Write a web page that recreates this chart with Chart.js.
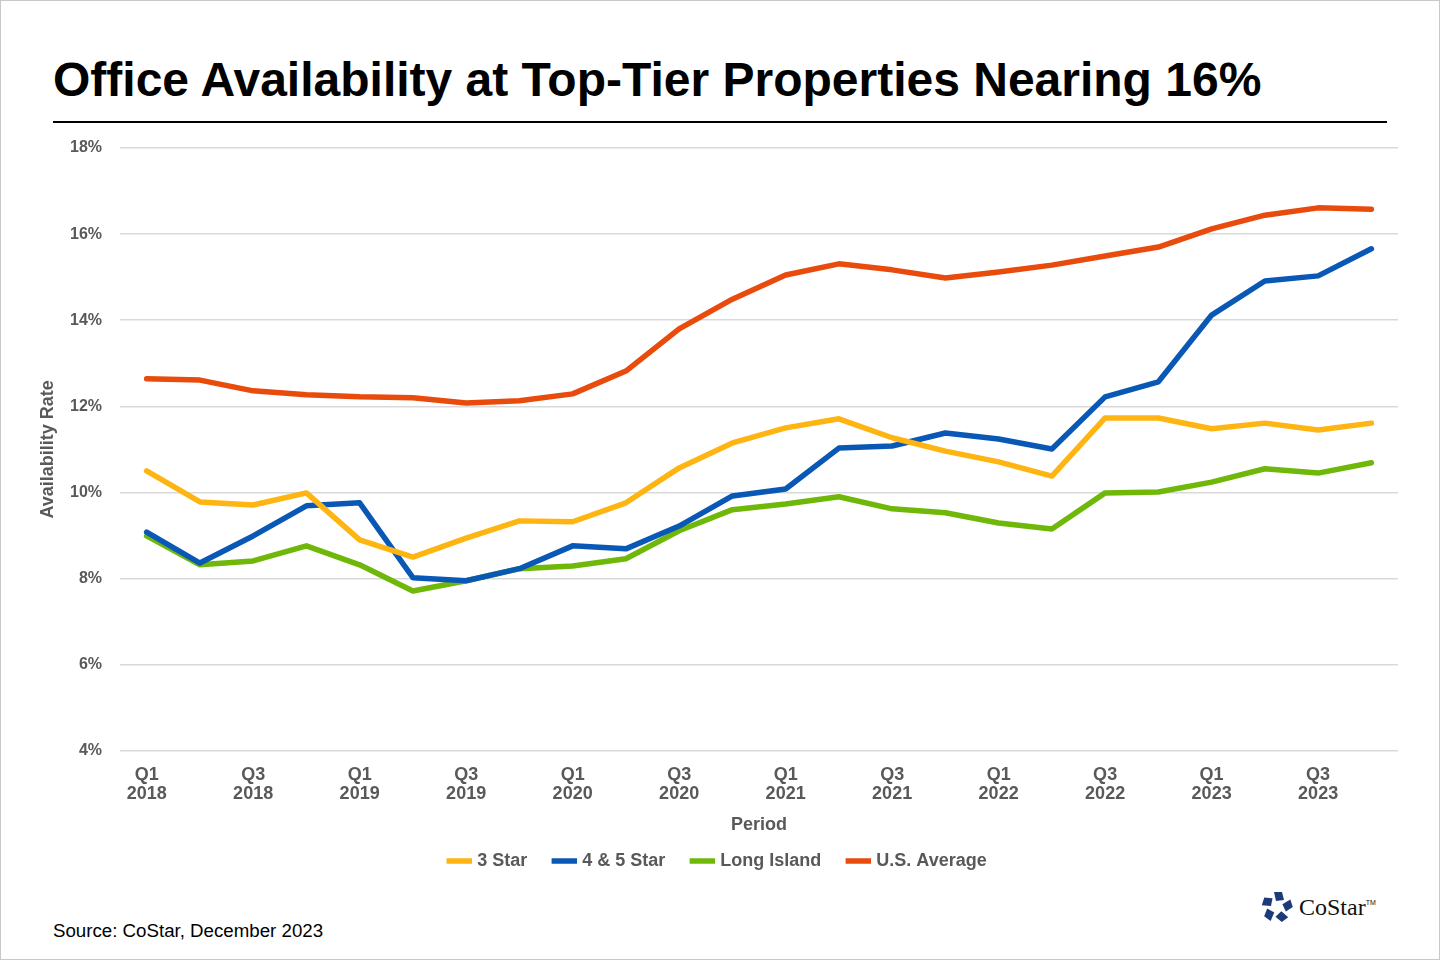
<!DOCTYPE html>
<html>
<head>
<meta charset="utf-8">
<script src="https://cdn.jsdelivr.net/npm/chart.js@4.4.0/dist/chart.umd.min.js"></script>
<style>
  html, body { margin: 0; padding: 0; background: #fff; }
  #page {
    position: relative; width: 1440px; height: 960px; box-sizing: border-box;
    border: 1px solid #c8c8c8; overflow: hidden; font-family: "Liberation Sans", Arial, sans-serif;
  }
  #title {
    position: absolute; left: 52px; top: 51px; margin: 0;
    font-size: 48px; font-weight: bold; color: #000; white-space: nowrap;
  }
  #rule { position: absolute; left: 52px; top: 120px; width: 1334px; height: 2px; background: #000; }
  #chart-wrap { position: absolute; left: 0; top: 128px; width: 1440px; height: 760px; }
  #source { position: absolute; left: 52px; top: 919px; font-size: 18.7px; color: #000; }
  #logo { position: absolute; left: 1260px; top: 890px; display: flex; align-items: center; }
  #logo span { font-family: "Liberation Serif", "Times New Roman", serif; font-size: 24px; color: #111; margin-left: 6px; }
  #logo sup { font-size: 7px; font-family: "Liberation Sans", Arial, sans-serif; vertical-align: 10px; }
</style>
</head>
<body>
<div id="page">
  <h1 id="title">Office Availability at Top-Tier Properties Nearing 16%</h1>
  <div id="rule"></div>
  <div id="chart-wrap"><canvas id="availability-chart"></canvas></div>
  <div id="source">Source: CoStar, December 2023</div>
  <div id="logo">
    <svg width="32" height="32" viewBox="-16 -16 32 32">
      <g fill="#1d3b78">
        <polygon points="-3,-15 5,-15 7,-7 -1,-6" transform="rotate(0)"/>
        <polygon points="-3,-15 5,-15 7,-7 -1,-6" transform="rotate(72)"/>
        <polygon points="-3,-15 5,-15 7,-7 -1,-6" transform="rotate(144)"/>
        <polygon points="-3,-15 5,-15 7,-7 -1,-6" transform="rotate(216)"/>
        <polygon points="-3,-15 5,-15 7,-7 -1,-6" transform="rotate(288)"/>
      </g>
    </svg>
    <span>CoStar<sup>TM</sup></span>
  </div>
</div>

<script>
// quarters, Q1 2018 .. Q4 2023
const periods = [
  'Q1 2018', 'Q2 2018', 'Q3 2018', 'Q4 2018',
  'Q1 2019', 'Q2 2019', 'Q3 2019', 'Q4 2019',
  'Q1 2020', 'Q2 2020', 'Q3 2020', 'Q4 2020',
  'Q1 2021', 'Q2 2021', 'Q3 2021', 'Q4 2021',
  'Q1 2022', 'Q2 2022', 'Q3 2022', 'Q4 2022',
  'Q1 2023', 'Q2 2023', 'Q3 2023', 'Q4 2023'
];

const threeStar = [10.50, 9.78, 9.71, 9.99, 8.90, 8.50, 8.94, 9.34, 9.32, 9.76, 10.57, 11.15,
                   11.50, 11.71, 11.27, 10.96, 10.71, 10.38, 11.73, 11.73, 11.48, 11.61, 11.45, 11.61];
const fourFiveStar = [9.08, 8.36, 8.99, 9.69, 9.76, 8.02, 7.95, 8.23, 8.76, 8.69, 9.22, 9.92,
                      10.08, 11.03, 11.08, 11.38, 11.24, 11.01, 12.22, 12.57, 14.12, 14.91, 15.03, 15.66];
const longIsland = [8.99, 8.32, 8.41, 8.76, 8.32, 7.71, 7.95, 8.23, 8.29, 8.46, 9.11, 9.60,
                    9.73, 9.90, 9.62, 9.53, 9.29, 9.15, 9.99, 10.01, 10.24, 10.55, 10.45, 10.69];
const usAverage = [12.64, 12.61, 12.36, 12.27, 12.22, 12.20, 12.08, 12.13, 12.29, 12.82, 13.80, 14.49,
                   15.05, 15.31, 15.17, 14.98, 15.12, 15.28, 15.49, 15.70, 16.12, 16.44, 16.61, 16.58];

const yTicks = [4, 6, 8, 10, 12, 14, 16, 18];

const axisGray = '#595959';
const fontFamily = 'Liberation Sans, Arial';

function series(label, data, color) {
    return {
        label: label,
        data: data,
        borderColor: color,
        backgroundColor: color,
        borderWidth: 5.5,
        borderCapStyle: 'round',
        borderJoinStyle: 'round',
        pointRadius: 0,
        pointStyle: 'line',
        tension: 0,
        fill: false
    };
}

new Chart(document.getElementById('availability-chart'), {
    type: 'line',
    data: {
        labels: periods,
        datasets: [
            series('3 Star', threeStar, '#FFB511'),
            series('4 & 5 Star', fourFiveStar, '#0A58B5'),
            series('Long Island', longIsland, '#6FB80A'),
            series('U.S. Average', usAverage, '#E84B0C')
        ]
    },
    options: {
        responsive: true,
        maintainAspectRatio: false,
        animation: false,
        layout: { padding: { top: 19, right: 43, left: 38, bottom: 9 } },
        plugins: {
            tooltip: { enabled: false },
            legend: {
                position: 'bottom',
                labels: {
                    color: axisGray,
                    font: { family: fontFamily, size: 18, weight: 'bold' },
                    usePointStyle: true,
                    pointStyle: 'line',
                    boxHeight: 18,
                    padding: 28
                }
            }
        },
        scales: {
            x: {
                offset: true,
                grid: { display: false },
                border: { display: false },
                ticks: {
                    autoSkip: false,
                    maxRotation: 0,
                    color: axisGray,
                    padding: 6,
                    font: { family: fontFamily, size: 18, weight: 'bold', lineHeight: 1.1 },
                    callback(value, index) {
                        return index % 2 === 0 ? periods[index].split(' ') : '';
                    }
                },
                title: {
                    display: true,
                    text: 'Period',
                    color: axisGray,
                    padding: { top: 4, bottom: -12 },
                    font: { family: fontFamily, size: 18, weight: 'bold' }
                }
            },
            y: {
                min: yTicks[0],
                max: yTicks[yTicks.length - 1],
                afterBuildTicks(scale) {
                    scale.ticks = yTicks.map(v => ({ value: v }));
                },
                grid: { color: '#d9d9d9', lineWidth: 1.5, drawTicks: true, tickLength: 14, tickColor: 'rgba(0,0,0,0)' },
                border: { display: false },
                ticks: {
                    color: axisGray,
                    padding: 4,
                    font: { family: fontFamily, size: 16, weight: 'bold' },
                    callback: v => v + '%'
                },
                title: {
                    display: true,
                    text: 'Availability Rate',
                    color: axisGray,
                    padding: { top: 0, bottom: 9 },
                    font: { family: fontFamily, size: 18, weight: 'bold', lineHeight: 1 }
                }
            }
        }
    }
});
</script>
</body>
</html>
